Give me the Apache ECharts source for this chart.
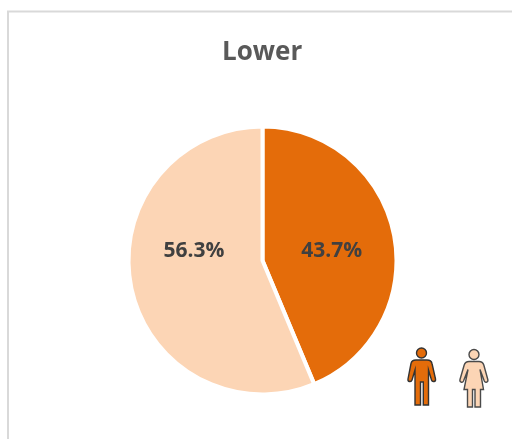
<!DOCTYPE html>
<html>
<head>
<meta charset="utf-8">
<style>html,body{margin:0;padding:0;background:#fff}#main{width:512px;height:439px}</style>
<script src="https://cdn.jsdelivr.net/npm/echarts@6/dist/echarts.min.js"></script>
</head>
<body>
<div id="main"></div>
<script>
var titleText = 'Lower';
var categories = ['Male', 'Female'];
var shares = [43.7, 56.3];
var sliceColors = ['#E46C0A', '#FCD5B5'];

// the two little people are drawn as custom shapes
var manPath = 'M14 0a5 5 0 1 1-0.01 0zM8.5 12H19.5c3 0 4.5 1 5 3.5L28 31c0.5 2.8-3.2 3.5-4 1L21 22V57H15.8V34H13V57H7.5V22L4.5 32c-0.8 2.5-4.5 1.8-4-1L3.5 15.5C4 13 5.5 12 8.5 12z';
var womanPath = 'M14.5 0a5 5 0 1 1-0.01 0zM9.5 12H19.5c2.5 0 4 1 4.8 3.5L28.3 30c0.7 2.8-2.5 3.8-3.5 1.500L20.5 20 24 40H21V57.5H15.5V40H13V57.5H8V40H4.5L8.5 20 4 31.5C3 33.8-0.2 32.8 0.5 30L4.7 15.5C5.5 13 7 12 9.5 12z';
echarts.graphic.registerShape('manIcon', echarts.graphic.extendPath(manPath, {}));
echarts.graphic.registerShape('womanIcon', echarts.graphic.extendPath(womanPath, {}));

var myChart = echarts.init(document.getElementById('main'));
var option;

option = {
  animation: false,
  title: {
    text: titleText,
    left: 217,
    top: 35,
    textStyle: {
      fontFamily: 'Open Sans',
      fontWeight: 'bold',
      fontSize: 26,
      color: '#595959'
    }
  },
  graphic: [
    {
      type: 'polyline',
      shape: { points: [[8, 439], [8, 11.5], [512, 11.5]] },
      style: { stroke: '#D9D9D9', lineWidth: 2, fill: null }
    },
    {
      type: 'manIcon',
      x: 407.5,
      y: 348,
      style: { fill: sliceColors[0], stroke: '#333333', lineWidth: 1.4 }
    },
    {
      type: 'womanIcon',
      x: 459.5,
      y: 349.5,
      style: { fill: sliceColors[1], stroke: '#4a4a4a', lineWidth: 1.4 }
    }
  ],
  series: [
    {
      type: 'pie',
      center: [262.5, 260.5],
      radius: [0, 134],
      startAngle: 90,
      clockwise: true,
      silent: true,
      data: [
        { name: categories[0], value: shares[0], label: { offset: [0.5, 4] } },
        { name: categories[1], value: shares[1], label: { offset: [0, -23] } }
      ],
      color: sliceColors,
      itemStyle: { borderColor: '#fff', borderWidth: 4 },
      labelLine: { show: false },
      label: {
        position: 'inside',
        formatter: function (p) { return p.value.toFixed(1) + '%'; },
        fontFamily: 'Open Sans',
        fontWeight: 'bold',
        fontSize: 21,
        color: '#404040',
        textBorderWidth: 0
      }
    }
  ]
};

option && myChart.setOption(option);
</script>
</body>
</html>
